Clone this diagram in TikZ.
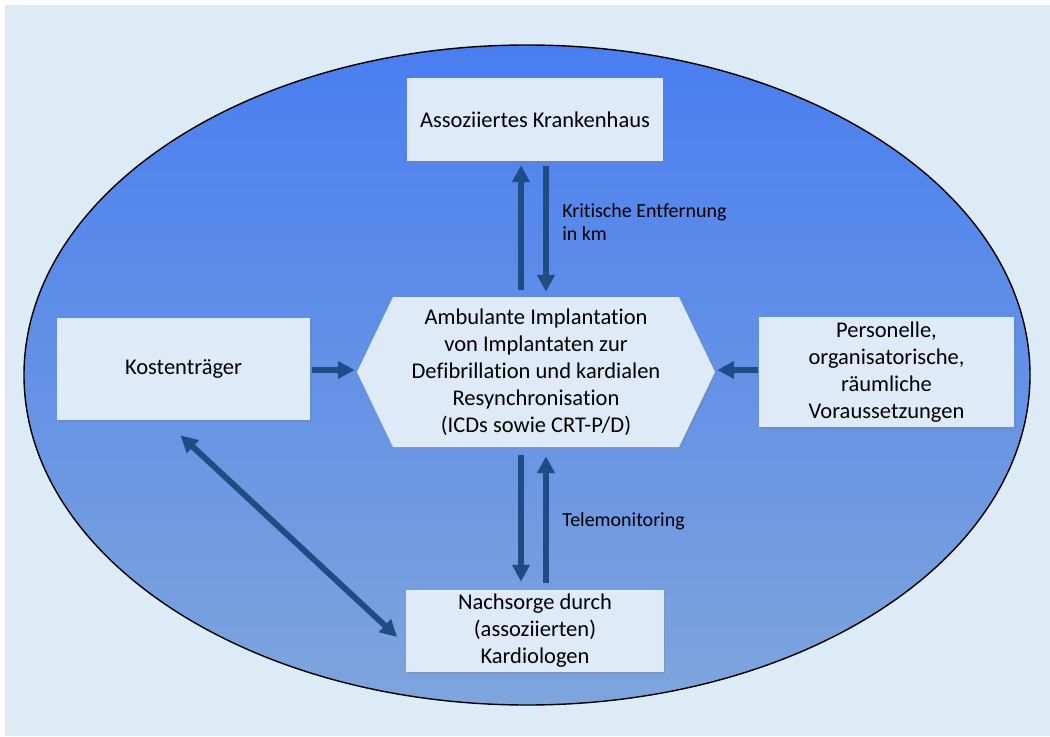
\documentclass[tikz,border=0pt]{standalone}
\usepackage{fontspec}
\setmainfont{Carlito}[Ligatures=NoCommon]
\usetikzlibrary{arrows.meta,calc,shadows}
\definecolor{hgblau}{RGB}{221,235,247}
\definecolor{kastenblau}{RGB}{222,234,247}
\definecolor{pfeilblau}{RGB}{31,76,130}
\definecolor{ellipseoben}{RGB}{74,126,240}
\definecolor{ellipseunten}{RGB}{126,165,220}
\tikzset{
  schatten/.style={drop shadow={shadow xshift=1.2pt, shadow yshift=-1.2pt, opacity=0.3}},
  kasten/.style={fill=kastenblau, align=center, inner sep=2pt,
    font=\fontsize{16}{19.2}\selectfont, schatten},
  hextext/.style={align=center, inner sep=0pt, font=\fontsize{16}{19.2}\selectfont},
  pfeil/.style={draw=pfeilblau, line width=4.2pt, -{Triangle[length=12pt,width=12pt]}},
  doppelpfeil/.style={pfeil, {Triangle[length=12pt,width=12pt]}-{Triangle[length=12pt,width=12pt]}},
  hinweis/.style={font=\fontsize{14.2}{16.4}\selectfont, align=left, inner sep=0pt},
}

\begin{document}
\begin{tikzpicture}[x=0.025cm,y=-0.025cm]
\useasboundingbox (0,0) rectangle (1050,736);
\fill[white] (0,0) rectangle (1050,736);
\fill[hgblau] (5,5) rectangle (1050,736);
\shade[top color=ellipseoben, bottom color=ellipseunten, draw=black, line width=1pt]
  (527,375) ellipse [x radius=503, y radius=330];

\node[kasten, minimum width=6.375cm, minimum height=2.075cm] (kh) at (535,119.5) {Assoziiertes Krankenhaus};
\node[kasten, minimum width=6.325cm, minimum height=2.55cm] (kt) at (183.5,369) {Kostenträger};
\node[kasten, minimum width=6.375cm, minimum height=2.75cm] (pv) at (886.5,372)
  {Personelle,\\organisatorische,\\räumliche\\Voraussetzungen};
\node[kasten, minimum width=6.425cm, minimum height=2.05cm] (ns) at (535,631)
  {Nachsorge durch\\(assoziierten)\\Kardiologen};

\coordinate (hexmitte) at (536,372);
\fill[kastenblau, schatten] ($(hexmitte)+(-179,0)$) -- ($(hexmitte)+(-143,-75)$) -- ($(hexmitte)+(143,-75)$)
  -- ($(hexmitte)+(179,0)$) -- ($(hexmitte)+(143,75)$) -- ($(hexmitte)+(-143,75)$) -- cycle;
\node[hextext, minimum width=8.95cm, minimum height=3.75cm] (hex) at (hexmitte)
  {Ambulante Implantation\\von Implantaten zur\\Defibrillation und kardialen\\Resynchronisation\\(ICDs sowie CRT-P/D)};

\draw[pfeil] ($(hex.north)+(-15,-7)$) -- ($(kh.south)+(-14,4)$);
\draw[pfeil] ($(kh.south)+(11,5)$) -- ($(hex.north)+(10,-5)$);
\node[hinweis, anchor=west] (km) at (562,222) {Kritische Entfernung\\in km};

\draw[pfeil] ($(hex.south)+(-15,8)$) -- ($(ns.north)+(-14,-8)$);
\draw[pfeil] ($(ns.north)+(11,-7)$) -- ($(hex.south)+(10,9)$);
\node[hinweis, anchor=west] (tm) at (562,521) {Telemonitoring};

\draw[pfeil] ($(kt.east)+(2,1)$) -- ($(hex.west)+(-2,-2)$);
\draw[pfeil] ($(pv.west)+(-1,-2)$) -- ($(hex.east)+(2,-2)$);
\draw[doppelpfeil] ($(kt.south)+(-3,15)$) -- ($(ns.west)+(-9,6)$);
\end{tikzpicture}
\end{document}
